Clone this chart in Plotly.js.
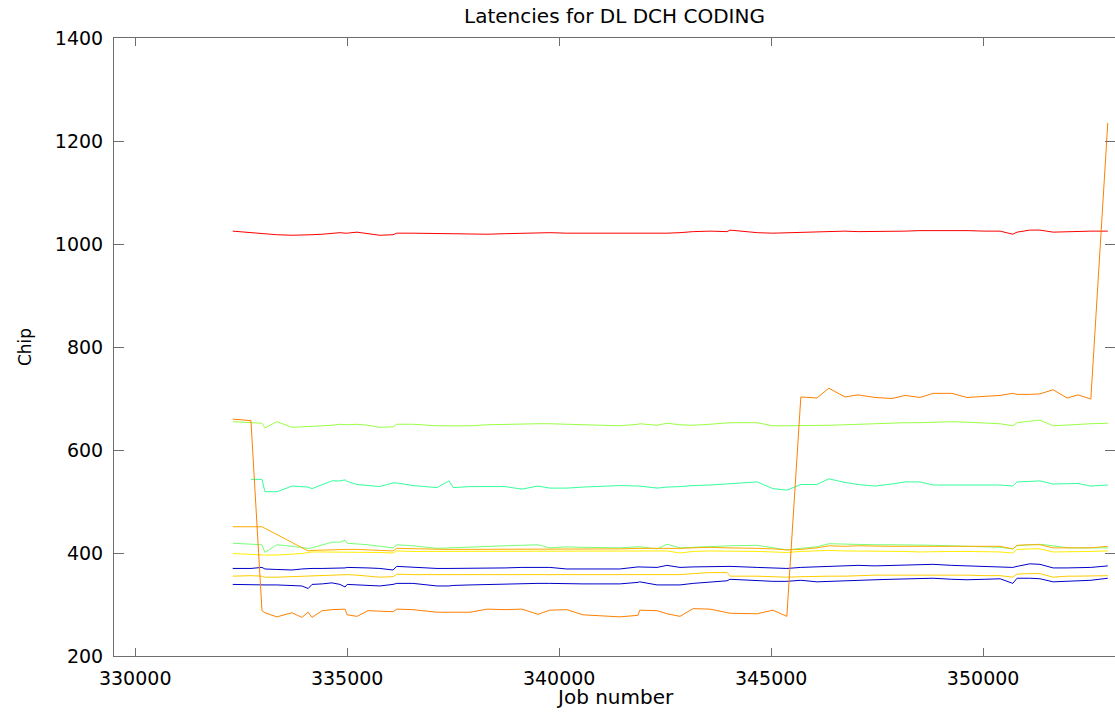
<!DOCTYPE html>
<html>
<head>
<meta charset="utf-8">
<script src="https://cdn.plot.ly/plotly-3.0.1.min.js"></script>
<style>
  html, body { margin: 0; padding: 0; background: #fff; }
  #chart { width: 1115px; height: 713px; }
</style>
</head>
<body>
<div id="chart"></div>
<script>
// Job numbers at which the chip latencies were sampled
const jobs = [
  332300, 332730, 332990, 333060, 333340, 333700, 333930, 334080, 334170, 334410,
  334640, 334830, 334950, 335000, 335230, 335490, 335770, 336080, 336170, 336550,
  337120, 337400, 337500, 337900, 338300, 338720, 339120, 339500, 339780, 340180,
  340560, 340960, 341430, 341860, 341900, 342310, 342540, 342850, 343160, 343560,
  343960, 344030, 344670, 345040, 345370, 345700, 346080, 346360, 346740, 347050,
  347450, 347850, 348160, 348510, 348820, 349260, 349620, 350040, 350400, 350700,
  350800, 351100, 351340, 351650, 351980, 352240, 352540, 352940
];

// Latency in chips, one array per measurement
const redLatency = [
  1025, 1022, 1019, 1019, 1018, 1017, 1017, 1017, 1018, 1019,
  1021, 1022, 1021, 1021, 1023, 1020, 1017, 1018, 1021, 1021,
  1020, 1020, 1020, 1020, 1019, 1020, 1021, 1022, 1022, 1021,
  1021, 1021, 1020, 1020, 1020, 1021, 1021, 1022, 1024, 1025,
  1024, 1027, 1022, 1021, 1022, 1023, 1024, 1025, 1025, 1024,
  1024, 1025, 1025, 1026, 1026, 1027, 1026, 1025, 1025, 1019,
  1023, 1027, 1027, 1023, 1024, 1024, 1025, 1025
];
const darkOrangeLatency = [
  660, 657, 288, 284, 276, 284, 275, 285, 275, 288,
  290, 291, 291, 280, 277, 288, 287, 286, 291, 290,
  285, 285, 285, 285, 291, 290, 291, 281, 289, 290,
  280, 278, 276, 279, 289, 288, 282, 277, 292, 291,
  283, 283, 282, 289, 277, 703, 701, 720, 703, 707,
  702, 700, 706, 702, 710, 710, 702, 704, 706, 710,
  708, 708, 709, 717, 701, 707, 699, 1235
];
const limeLatency = [
  655, 654, 652, 643, 655, 644, 645, 645, 645, 646,
  648, 650, 649, 649, 650, 648, 644, 645, 650, 650,
  647, 647, 647, 647, 649, 650, 650, 651, 651, 650,
  649, 648, 647, 650, 651, 648, 652, 649, 648, 650,
  653, 653, 653, 647, 647, 647, 647, 648, 649, 650,
  651, 652, 653, 653, 654, 655, 654, 653, 651, 647,
  653, 656, 658, 647, 649, 650, 651, 652
];
const springLatency = [
  null, 543, 543, 519, 519, 530, 529, 528, 525, 533,
  540, 540, 542, 539, 533, 531, 529, 536, 536, 531,
  527, 540, 527, 529, 529, 529, 524, 530, 526, 526,
  528, 530, 531, 530, 530, 526, 528, 529, 531, 532,
  534, 534, 538, 525, 522, 533, 533, 544, 537, 533,
  530, 534, 538, 538, 532, 532, 532, 532, 532, 530,
  538, 539, 540, 534, 535, 535, 530, 532
];
const greenLatency = [
  419, 417, 416, 401, 416, 413, 410, 409, 410, 415,
  421, 421, 425, 419, 418, 416, 413, 410, 416, 414,
  409, 410, 411, 412, 413, 414, 415, 416, 410, 412,
  411, 411, 410, 412, 412, 408, 417, 410, 411, 413,
  414, 414, 415, 411, 406, 409, 412, 418, 417, 416,
  416, 416, 416, 416, 415, 414, 413, 412, 411, 408,
  414, 416, 417, 414, 410, 410, 410, 410
];
const orangeLatency = [
  451, 451, 451, 448, 436, 421, 410, 404, 405, 406,
  406, 407, 407, 407, 407, 406, 404, 404, 409, 408,
  407, 407, 407, 407, 407, 407, 407, 407, 408, 407,
  407, 408, 408, 409, 409, 408, 409, 409, 410, 411,
  410, 410, 409, 408, 406, 407, 410, 414, 413, 414,
  413, 413, 413, 413, 413, 412, 413, 413, 413, 408,
  415, 416, 416, 410, 410, 410, 410, 413
];
const yellowLatency = [
  399, 397, 396, 396, 396, 397, 399, 401, 402, 402,
  402, 402, 402, 402, 401, 401, 401, 400, 404, 403,
  403, 403, 403, 403, 403, 403, 403, 403, 403, 403,
  404, 404, 404, 404, 404, 403, 404, 400, 403, 404,
  404, 404, 403, 402, 401, 403, 404, 405, 404, 404,
  403, 403, 403, 402, 403, 403, 403, 403, 402, 400,
  407, 408, 408, 402, 402, 402, 403, 404
];
const blueUpperLatency = [
  370, 370, 372, 369, 368, 367, 369, 370, 370, 370,
  370, 371, 371, 372, 372, 371, 370, 367, 374, 372,
  370, 370, 370, 371, 371, 371, 372, 372, 372, 369,
  369, 369, 369, 373, 373, 372, 376, 372, 373, 374,
  374, 374, 372, 371, 370, 372, 373, 373, 374, 376,
  375, 376, 377, 378, 378, 376, 375, 374, 374, 372,
  374, 379, 378, 371, 371, 372, 372, 375
];
const goldLatency = [
  355, 356, 355, 353, 353, 354, 354, 355, 355, 356,
  357, 357, 358, 358, 357, 355, 353, 354, 359, 358,
  358, 358, 358, 358, 358, 358, 358, 358, 358, 357,
  357, 357, 357, 357, 357, 357, 358, 358, 360, 362,
  362, 355, 355, 354, 353, 354, 355, 355, 355, 356,
  357, 357, 357, 357, 358, 358, 357, 356, 356, 353,
  359, 360, 360, 353, 355, 355, 355, 356
];
const blueLowerLatency = [
  339, 338, 337, 338, 338, 337, 336, 331, 339, 340,
  342, 339, 334, 339, 338, 337, 336, 339, 341, 341,
  336, 336, 337, 338, 339, 340, 340, 341, 341, 340,
  340, 340, 340, 343, 344, 338, 338, 338, 341, 344,
  346, 349, 346, 345, 345, 347, 344, 345, 346, 348,
  348, 349, 350, 350, 351, 349, 348, 349, 350, 341,
  351, 351, 350, 344, 345, 346, 347, 351
];

// Axis ticks
const xTickVals = [330000, 335000, 340000, 345000, 350000];
const xTickText = ['330000', '335000', '340000', '345000', '350000'];
const yTickVals = [200, 400, 600, 800, 1000, 1200, 1400];
const yTickText = ['200', '400', '600', '800', '1000', '1200', '1400'];

const seriesList = [
  { y: blueLowerLatency, color: '#0000cc' },
  { y: goldLatency, color: '#ffcc00' },
  { y: blueUpperLatency, color: '#0000cc' },
  { y: yellowLatency, color: '#ffee00' },
  { y: greenLatency, color: '#77ff77' },
  { y: orangeLatency, color: '#ffaa00' },
  { y: springLatency, color: '#33ff99' },
  { y: limeLatency, color: '#99ff44' },
  { y: redLatency, color: '#ff0000' },
  { y: darkOrangeLatency, color: '#ff8000' }
];

const traces = seriesList.map(s => ({
  type: 'scatter',
  mode: 'lines',
  x: jobs,
  y: s.y,
  line: { color: s.color, width: 1 },
  hoverinfo: 'skip'
}));

const font = 'DejaVu Sans, Arial, sans-serif';
const axisColor = '#6e6e6e';

const layout = {
  width: 1115,
  height: 713,
  margin: { l: 114, r: 0, t: 38, b: 57, pad: 0 },
  paper_bgcolor: '#ffffff',
  plot_bgcolor: '#ffffff',
  showlegend: false,
  title: {
    text: 'Latencies for DL DCH CODING',
    font: { family: font, size: 20, color: '#000' },
    x: 0.5, xref: 'paper', xanchor: 'center',
    y: 0.978, yref: 'container', yanchor: 'middle'
  },
  // x-axis caption placed just under the tick labels
  annotations: [{
    text: 'Job number',
    xref: 'paper', yref: 'paper',
    x: 0.5, y: -0.066,
    xanchor: 'center', yanchor: 'middle',
    showarrow: false,
    font: { family: font, size: 20, color: '#000' }
  }],
  xaxis: {
    range: [329500, 353110],
    tickmode: 'array',
    tickvals: xTickVals,
    ticktext: xTickText,
    ticks: 'inside',
    ticklen: 8,
    tickwidth: 1,
    tickcolor: axisColor,
    showline: true,
    linecolor: axisColor,
    linewidth: 1,
    mirror: 'ticks',
    showgrid: false,
    zeroline: false,
    ticklabelstandoff: 5,
    tickfont: { family: font, size: 19, color: '#000' }
  },
  yaxis: {
    range: [200, 1400],
    tickmode: 'array',
    tickvals: yTickVals,
    ticktext: yTickText,
    ticks: 'inside',
    ticklen: 10,
    tickwidth: 1,
    tickcolor: axisColor,
    showline: true,
    linecolor: axisColor,
    linewidth: 1,
    mirror: 'ticks',
    showgrid: false,
    zeroline: false,
    ticklabelstandoff: 6,
    tickfont: { family: font, size: 19, color: '#000' },
    title: { text: 'Chip', font: { family: font, size: 17, color: '#000' }, standoff: 18 }
  }
};

Plotly.newPlot('chart', traces, layout, { staticPlot: true, displayModeBar: false });
</script>
</body>
</html>
